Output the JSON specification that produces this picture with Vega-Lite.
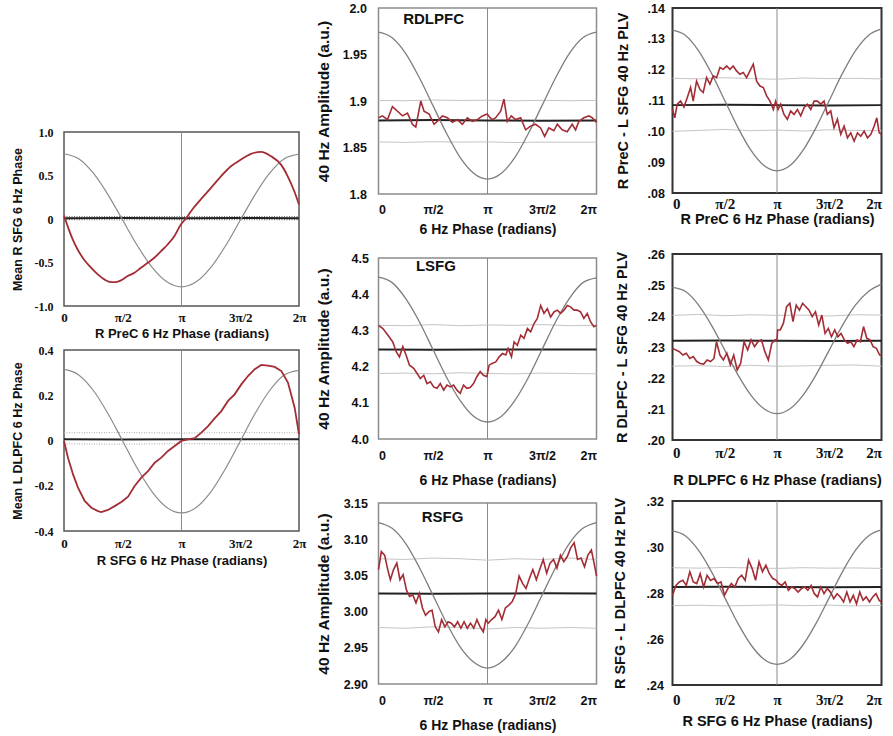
{
"$schema": "https://vega.github.io/schema/vega-lite/v6.json",
"padding": {"left": 10, "top": 1, "right": 2, "bottom": 2},
"background": "white",
"datasets": {
"L1": [
{"s":"ref","x":0,"y":0.75},{"s":"ref","x":0.125,"y":0.692},{"s":"ref","x":0.25,"y":0.526},{"s":"ref","x":0.375,"y":0.278},{"s":"ref","x":0.5,"y":-0.015},{"s":"ref","x":0.625,"y":-0.308},{"s":"ref","x":0.75,"y":-0.556},{"s":"ref","x":0.875,"y":-0.722},{"s":"ref","x":1,"y":-0.78},{"s":"ref","x":1.125,"y":-0.722},{"s":"ref","x":1.25,"y":-0.556},{"s":"ref","x":1.375,"y":-0.308},{"s":"ref","x":1.5,"y":-0.015},{"s":"ref","x":1.625,"y":0.278},{"s":"ref","x":1.75,"y":0.526},{"s":"ref","x":1.875,"y":0.692},{"s":"ref","x":2,"y":0.745},
{"s":"obs","x":0,"y":0.04},{"s":"obs","x":0.031,"y":-0.082},{"s":"obs","x":0.074,"y":-0.235},{"s":"obs","x":0.116,"y":-0.35},{"s":"obs","x":0.173,"y":-0.472},{"s":"obs","x":0.23,"y":-0.56},{"s":"obs","x":0.287,"y":-0.637},{"s":"obs","x":0.343,"y":-0.694},{"s":"obs","x":0.4,"y":-0.725},{"s":"obs","x":0.443,"y":-0.725},{"s":"obs","x":0.485,"y":-0.706},{"s":"obs","x":0.542,"y":-0.656},{"s":"obs","x":0.599,"y":-0.618},{"s":"obs","x":0.655,"y":-0.56},{"s":"obs","x":0.712,"y":-0.503},{"s":"obs","x":0.769,"y":-0.446},{"s":"obs","x":0.826,"y":-0.369},{"s":"obs","x":0.882,"y":-0.293},{"s":"obs","x":0.939,"y":-0.197},{"s":"obs","x":0.996,"y":-0.06},{"s":"obs","x":1.04,"y":0.01},{"s":"obs","x":1.081,"y":0.09},{"s":"obs","x":1.166,"y":0.228},{"s":"obs","x":1.251,"y":0.358},{"s":"obs","x":1.336,"y":0.491},{"s":"obs","x":1.421,"y":0.606},{"s":"obs","x":1.506,"y":0.683},{"s":"obs","x":1.591,"y":0.748},{"s":"obs","x":1.677,"y":0.771},{"s":"obs","x":1.762,"y":0.721},{"s":"obs","x":1.847,"y":0.625},{"s":"obs","x":1.904,"y":0.491},{"s":"obs","x":1.96,"y":0.319},{"s":"obs","x":2,"y":0.166},
{"s":"mean","x":0,"y":0.01},{"s":"mean","x":0.5,"y":0.012},{"s":"mean","x":1,"y":0.01},{"s":"mean","x":1.5,"y":0.011},{"s":"mean","x":2,"y":0.01},
{"s":"hi","x":0,"y":0.028},{"s":"hi","x":0.5,"y":0.029},{"s":"hi","x":1,"y":0.027},{"s":"hi","x":1.5,"y":0.028},{"s":"hi","x":2,"y":0.028},
{"s":"lo","x":0,"y":-0.008},{"s":"lo","x":0.5,"y":-0.009},{"s":"lo","x":1,"y":-0.008},{"s":"lo","x":1.5,"y":-0.007},{"s":"lo","x":2,"y":-0.008},
{"s":"pi","x":1,"y":-1},{"s":"pi","x":1,"y":1}
],
"L2": [
{"s":"ref","x":0,"y":0.314},{"s":"ref","x":0.125,"y":0.29},{"s":"ref","x":0.25,"y":0.221},{"s":"ref","x":0.375,"y":0.118},{"s":"ref","x":0.5,"y":-0.003},{"s":"ref","x":0.625,"y":-0.124},{"s":"ref","x":0.75,"y":-0.227},{"s":"ref","x":0.875,"y":-0.296},{"s":"ref","x":1,"y":-0.32},{"s":"ref","x":1.125,"y":-0.296},{"s":"ref","x":1.25,"y":-0.227},{"s":"ref","x":1.375,"y":-0.124},{"s":"ref","x":1.5,"y":-0.003},{"s":"ref","x":1.625,"y":0.118},{"s":"ref","x":1.75,"y":0.221},{"s":"ref","x":1.875,"y":0.29},{"s":"ref","x":2,"y":0.31},
{"s":"obs","x":0,"y":-0.002},{"s":"obs","x":0.034,"y":-0.076},{"s":"obs","x":0.077,"y":-0.15},{"s":"obs","x":0.119,"y":-0.208},{"s":"obs","x":0.176,"y":-0.267},{"s":"obs","x":0.233,"y":-0.297},{"s":"obs","x":0.289,"y":-0.312},{"s":"obs","x":0.318,"y":-0.316},{"s":"obs","x":0.374,"y":-0.307},{"s":"obs","x":0.431,"y":-0.29},{"s":"obs","x":0.488,"y":-0.272},{"s":"obs","x":0.545,"y":-0.248},{"s":"obs","x":0.601,"y":-0.201},{"s":"obs","x":0.658,"y":-0.164},{"s":"obs","x":0.715,"y":-0.135},{"s":"obs","x":0.772,"y":-0.098},{"s":"obs","x":0.828,"y":-0.076},{"s":"obs","x":0.885,"y":-0.046},{"s":"obs","x":0.942,"y":-0.024},{"s":"obs","x":0.999,"y":-0.002},{"s":"obs","x":1.055,"y":0.005},{"s":"obs","x":1.112,"y":0.01},{"s":"obs","x":1.169,"y":0.035},{"s":"obs","x":1.226,"y":0.064},{"s":"obs","x":1.282,"y":0.098},{"s":"obs","x":1.339,"y":0.13},{"s":"obs","x":1.396,"y":0.175},{"s":"obs","x":1.452,"y":0.204},{"s":"obs","x":1.509,"y":0.248},{"s":"obs","x":1.566,"y":0.285},{"s":"obs","x":1.623,"y":0.315},{"s":"obs","x":1.679,"y":0.334},{"s":"obs","x":1.736,"y":0.331},{"s":"obs","x":1.793,"y":0.325},{"s":"obs","x":1.85,"y":0.307},{"s":"obs","x":1.906,"y":0.256},{"s":"obs","x":1.963,"y":0.145},{"s":"obs","x":2,"y":0.027},
{"s":"mean","x":0,"y":0.005},{"s":"mean","x":0.5,"y":0.004},{"s":"mean","x":1,"y":0.005},{"s":"mean","x":1.5,"y":0.006},{"s":"mean","x":2,"y":0.005},
{"s":"hi","x":0,"y":0.034},{"s":"hi","x":0.5,"y":0.035},{"s":"hi","x":1,"y":0.033},{"s":"hi","x":1.5,"y":0.035},{"s":"hi","x":2,"y":0.034},
{"s":"lo","x":0,"y":-0.015},{"s":"lo","x":0.5,"y":-0.016},{"s":"lo","x":1,"y":-0.014},{"s":"lo","x":1.5,"y":-0.015},{"s":"lo","x":2,"y":-0.015},
{"s":"pi","x":1,"y":-0.4},{"s":"pi","x":1,"y":0.4}
],
"M1": [
{"s":"ref","x":0,"y":1.974},{"s":"ref","x":0.125,"y":1.968},{"s":"ref","x":0.25,"y":1.951},{"s":"ref","x":0.375,"y":1.925},{"s":"ref","x":0.5,"y":1.895},{"s":"ref","x":0.625,"y":1.865},{"s":"ref","x":0.75,"y":1.839},{"s":"ref","x":0.875,"y":1.822},{"s":"ref","x":1,"y":1.816},{"s":"ref","x":1.125,"y":1.822},{"s":"ref","x":1.25,"y":1.839},{"s":"ref","x":1.375,"y":1.865},{"s":"ref","x":1.5,"y":1.895},{"s":"ref","x":1.625,"y":1.925},{"s":"ref","x":1.75,"y":1.951},{"s":"ref","x":1.875,"y":1.968},{"s":"ref","x":2,"y":1.974},
{"s":"obs","x":0,"y":1.882},{"s":"obs","x":0.037,"y":1.884},{"s":"obs","x":0.082,"y":1.88},{"s":"obs","x":0.128,"y":1.894},{"s":"obs","x":0.174,"y":1.889},{"s":"obs","x":0.22,"y":1.884},{"s":"obs","x":0.266,"y":1.887},{"s":"obs","x":0.311,"y":1.875},{"s":"obs","x":0.342,"y":1.872},{"s":"obs","x":0.388,"y":1.9},{"s":"obs","x":0.418,"y":1.889},{"s":"obs","x":0.464,"y":1.886},{"s":"obs","x":0.51,"y":1.875},{"s":"obs","x":0.556,"y":1.88},{"s":"obs","x":0.586,"y":1.884},{"s":"obs","x":0.632,"y":1.882},{"s":"obs","x":0.678,"y":1.877},{"s":"obs","x":0.724,"y":1.88},{"s":"obs","x":0.769,"y":1.875},{"s":"obs","x":0.815,"y":1.882},{"s":"obs","x":0.861,"y":1.878},{"s":"obs","x":0.907,"y":1.88},{"s":"obs","x":0.953,"y":1.884},{"s":"obs","x":0.998,"y":1.886},{"s":"obs","x":1.023,"y":1.882},{"s":"obs","x":1.044,"y":1.88},{"s":"obs","x":1.075,"y":1.882},{"s":"obs","x":1.121,"y":1.889},{"s":"obs","x":1.151,"y":1.902},{"s":"obs","x":1.182,"y":1.878},{"s":"obs","x":1.218,"y":1.884},{"s":"obs","x":1.258,"y":1.88},{"s":"obs","x":1.304,"y":1.882},{"s":"obs","x":1.35,"y":1.869},{"s":"obs","x":1.395,"y":1.873},{"s":"obs","x":1.441,"y":1.875},{"s":"obs","x":1.487,"y":1.871},{"s":"obs","x":1.524,"y":1.862},{"s":"obs","x":1.563,"y":1.871},{"s":"obs","x":1.609,"y":1.868},{"s":"obs","x":1.64,"y":1.875},{"s":"obs","x":1.685,"y":1.869},{"s":"obs","x":1.731,"y":1.867},{"s":"obs","x":1.777,"y":1.875},{"s":"obs","x":1.808,"y":1.869},{"s":"obs","x":1.838,"y":1.878},{"s":"obs","x":1.884,"y":1.882},{"s":"obs","x":1.93,"y":1.884},{"s":"obs","x":1.96,"y":1.882},{"s":"obs","x":2,"y":1.877},
{"s":"mean","x":0,"y":1.879},{"s":"mean","x":0.5,"y":1.8795},{"s":"mean","x":1,"y":1.879},{"s":"mean","x":1.5,"y":1.8788},{"s":"mean","x":2,"y":1.879},
{"s":"hi","x":0,"y":1.9005},{"s":"hi","x":0.25,"y":1.9003},{"s":"hi","x":0.5,"y":1.901},{"s":"hi","x":0.75,"y":1.9006},{"s":"hi","x":1,"y":1.9008},{"s":"hi","x":1.25,"y":1.9002},{"s":"hi","x":1.5,"y":1.9007},{"s":"hi","x":1.75,"y":1.9003},{"s":"hi","x":2,"y":1.9006},
{"s":"lo","x":0,"y":1.856},{"s":"lo","x":0.25,"y":1.8555},{"s":"lo","x":0.5,"y":1.8562},{"s":"lo","x":0.75,"y":1.8558},{"s":"lo","x":1,"y":1.856},{"s":"lo","x":1.25,"y":1.8553},{"s":"lo","x":1.5,"y":1.8558},{"s":"lo","x":1.75,"y":1.8556},{"s":"lo","x":2,"y":1.8557},
{"s":"pi","x":1,"y":1.8},{"s":"pi","x":1,"y":2.0},
{"s":"label","x":0.505,"y":1.988,"label":"RDLPFC"}
],
"M2": [
{"s":"ref","x":0,"y":4.447},{"s":"ref","x":0.125,"y":4.432},{"s":"ref","x":0.25,"y":4.388},{"s":"ref","x":0.375,"y":4.324},{"s":"ref","x":0.5,"y":4.247},{"s":"ref","x":0.625,"y":4.17},{"s":"ref","x":0.75,"y":4.106},{"s":"ref","x":0.875,"y":4.062},{"s":"ref","x":1,"y":4.047},{"s":"ref","x":1.125,"y":4.062},{"s":"ref","x":1.25,"y":4.106},{"s":"ref","x":1.375,"y":4.17},{"s":"ref","x":1.5,"y":4.247},{"s":"ref","x":1.625,"y":4.324},{"s":"ref","x":1.75,"y":4.388},{"s":"ref","x":1.875,"y":4.432},{"s":"ref","x":2,"y":4.445},
{"s":"obs","x":0,"y":4.314},{"s":"obs","x":0.04,"y":4.305},{"s":"obs","x":0.085,"y":4.287},{"s":"obs","x":0.131,"y":4.268},{"s":"obs","x":0.162,"y":4.241},{"s":"obs","x":0.192,"y":4.227},{"s":"obs","x":0.223,"y":4.255},{"s":"obs","x":0.253,"y":4.232},{"s":"obs","x":0.284,"y":4.204},{"s":"obs","x":0.323,"y":4.195},{"s":"obs","x":0.354,"y":4.181},{"s":"obs","x":0.384,"y":4.167},{"s":"obs","x":0.415,"y":4.176},{"s":"obs","x":0.445,"y":4.153},{"s":"obs","x":0.476,"y":4.158},{"s":"obs","x":0.506,"y":4.144},{"s":"obs","x":0.537,"y":4.14},{"s":"obs","x":0.567,"y":4.153},{"s":"obs","x":0.598,"y":4.135},{"s":"obs","x":0.628,"y":4.149},{"s":"obs","x":0.659,"y":4.144},{"s":"obs","x":0.689,"y":4.149},{"s":"obs","x":0.72,"y":4.135},{"s":"obs","x":0.75,"y":4.126},{"s":"obs","x":0.78,"y":4.149},{"s":"obs","x":0.811,"y":4.14},{"s":"obs","x":0.841,"y":4.142},{"s":"obs","x":0.872,"y":4.153},{"s":"obs","x":0.902,"y":4.172},{"s":"obs","x":0.933,"y":4.186},{"s":"obs","x":0.963,"y":4.176},{"s":"obs","x":0.994,"y":4.172},{"s":"obs","x":1.015,"y":4.204},{"s":"obs","x":1.046,"y":4.209},{"s":"obs","x":1.076,"y":4.213},{"s":"obs","x":1.107,"y":4.227},{"s":"obs","x":1.137,"y":4.236},{"s":"obs","x":1.168,"y":4.232},{"s":"obs","x":1.189,"y":4.25},{"s":"obs","x":1.22,"y":4.227},{"s":"obs","x":1.244,"y":4.268},{"s":"obs","x":1.274,"y":4.259},{"s":"obs","x":1.305,"y":4.287},{"s":"obs","x":1.335,"y":4.278},{"s":"obs","x":1.366,"y":4.305},{"s":"obs","x":1.396,"y":4.296},{"s":"obs","x":1.427,"y":4.319},{"s":"obs","x":1.457,"y":4.333},{"s":"obs","x":1.488,"y":4.369},{"s":"obs","x":1.518,"y":4.347},{"s":"obs","x":1.549,"y":4.36},{"s":"obs","x":1.579,"y":4.337},{"s":"obs","x":1.61,"y":4.351},{"s":"obs","x":1.64,"y":4.356},{"s":"obs","x":1.671,"y":4.347},{"s":"obs","x":1.701,"y":4.356},{"s":"obs","x":1.732,"y":4.369},{"s":"obs","x":1.762,"y":4.365},{"s":"obs","x":1.793,"y":4.356},{"s":"obs","x":1.823,"y":4.356},{"s":"obs","x":1.854,"y":4.351},{"s":"obs","x":1.884,"y":4.333},{"s":"obs","x":1.915,"y":4.347},{"s":"obs","x":1.945,"y":4.324},{"s":"obs","x":1.976,"y":4.31},{"s":"obs","x":2,"y":4.314},
{"s":"mean","x":0,"y":4.247},{"s":"mean","x":0.5,"y":4.2465},{"s":"mean","x":1,"y":4.247},{"s":"mean","x":1.5,"y":4.2475},{"s":"mean","x":2,"y":4.247},
{"s":"hi","x":0,"y":4.314},{"s":"hi","x":0.25,"y":4.313},{"s":"hi","x":0.5,"y":4.316},{"s":"hi","x":0.75,"y":4.313},{"s":"hi","x":1,"y":4.315},{"s":"hi","x":1.25,"y":4.314},{"s":"hi","x":1.5,"y":4.316},{"s":"hi","x":1.75,"y":4.313},{"s":"hi","x":2,"y":4.314},
{"s":"lo","x":0,"y":4.181},{"s":"lo","x":0.25,"y":4.182},{"s":"lo","x":0.5,"y":4.18},{"s":"lo","x":0.75,"y":4.183},{"s":"lo","x":1,"y":4.181},{"s":"lo","x":1.25,"y":4.18},{"s":"lo","x":1.5,"y":4.182},{"s":"lo","x":1.75,"y":4.181},{"s":"lo","x":2,"y":4.18},
{"s":"pi","x":1,"y":4.0},{"s":"pi","x":1,"y":4.5},
{"s":"label","x":0.527,"y":4.478,"label":"LSFG"}
],
"M3": [
{"s":"ref","x":0,"y":3.123},{"s":"ref","x":0.125,"y":3.115},{"s":"ref","x":0.25,"y":3.094},{"s":"ref","x":0.375,"y":3.061},{"s":"ref","x":0.5,"y":3.0225},{"s":"ref","x":0.625,"y":2.984},{"s":"ref","x":0.75,"y":2.951},{"s":"ref","x":0.875,"y":2.93},{"s":"ref","x":1,"y":2.922},{"s":"ref","x":1.125,"y":2.93},{"s":"ref","x":1.25,"y":2.951},{"s":"ref","x":1.375,"y":2.984},{"s":"ref","x":1.5,"y":3.0225},{"s":"ref","x":1.625,"y":3.061},{"s":"ref","x":1.75,"y":3.094},{"s":"ref","x":1.875,"y":3.115},{"s":"ref","x":2,"y":3.123},
{"s":"obs","x":0,"y":3.058},{"s":"obs","x":0.026,"y":3.083},{"s":"obs","x":0.056,"y":3.078},{"s":"obs","x":0.085,"y":3.058},{"s":"obs","x":0.109,"y":3.044},{"s":"obs","x":0.138,"y":3.058},{"s":"obs","x":0.168,"y":3.067},{"s":"obs","x":0.197,"y":3.044},{"s":"obs","x":0.226,"y":3.051},{"s":"obs","x":0.256,"y":3.03},{"s":"obs","x":0.285,"y":3.021},{"s":"obs","x":0.315,"y":3.023},{"s":"obs","x":0.344,"y":3.012},{"s":"obs","x":0.374,"y":3.025},{"s":"obs","x":0.403,"y":3.005},{"s":"obs","x":0.432,"y":2.995},{"s":"obs","x":0.462,"y":3.0},{"s":"obs","x":0.491,"y":3.002},{"s":"obs","x":0.521,"y":2.979},{"s":"obs","x":0.55,"y":2.972},{"s":"obs","x":0.579,"y":2.989},{"s":"obs","x":0.609,"y":2.979},{"s":"obs","x":0.638,"y":2.986},{"s":"obs","x":0.668,"y":2.984},{"s":"obs","x":0.697,"y":2.979},{"s":"obs","x":0.726,"y":2.986},{"s":"obs","x":0.756,"y":2.977},{"s":"obs","x":0.785,"y":2.986},{"s":"obs","x":0.815,"y":2.977},{"s":"obs","x":0.844,"y":2.984},{"s":"obs","x":0.874,"y":2.977},{"s":"obs","x":0.903,"y":2.989},{"s":"obs","x":0.932,"y":2.979},{"s":"obs","x":0.962,"y":2.972},{"s":"obs","x":0.985,"y":2.989},{"s":"obs","x":1.006,"y":2.984},{"s":"obs","x":1.038,"y":2.989},{"s":"obs","x":1.069,"y":2.993},{"s":"obs","x":1.101,"y":3.002},{"s":"obs","x":1.132,"y":2.989},{"s":"obs","x":1.164,"y":3.005},{"s":"obs","x":1.196,"y":3.009},{"s":"obs","x":1.227,"y":3.014},{"s":"obs","x":1.259,"y":3.025},{"s":"obs","x":1.29,"y":3.049},{"s":"obs","x":1.322,"y":3.039},{"s":"obs","x":1.353,"y":3.032},{"s":"obs","x":1.385,"y":3.046},{"s":"obs","x":1.416,"y":3.058},{"s":"obs","x":1.448,"y":3.044},{"s":"obs","x":1.479,"y":3.058},{"s":"obs","x":1.511,"y":3.072},{"s":"obs","x":1.543,"y":3.053},{"s":"obs","x":1.574,"y":3.067},{"s":"obs","x":1.606,"y":3.072},{"s":"obs","x":1.637,"y":3.06},{"s":"obs","x":1.669,"y":3.078},{"s":"obs","x":1.7,"y":3.069},{"s":"obs","x":1.732,"y":3.076},{"s":"obs","x":1.763,"y":3.088},{"s":"obs","x":1.795,"y":3.095},{"s":"obs","x":1.826,"y":3.072},{"s":"obs","x":1.858,"y":3.074},{"s":"obs","x":1.89,"y":3.062},{"s":"obs","x":1.921,"y":3.078},{"s":"obs","x":1.953,"y":3.085},{"s":"obs","x":1.984,"y":3.062},{"s":"obs","x":2,"y":3.049},
{"s":"mean","x":0,"y":3.025},{"s":"mean","x":0.5,"y":3.0248},{"s":"mean","x":1,"y":3.025},{"s":"mean","x":1.5,"y":3.0252},{"s":"mean","x":2,"y":3.025},
{"s":"hi","x":0,"y":3.073},{"s":"hi","x":0.25,"y":3.072},{"s":"hi","x":0.5,"y":3.074},{"s":"hi","x":0.75,"y":3.073},{"s":"hi","x":1,"y":3.071},{"s":"hi","x":1.25,"y":3.073},{"s":"hi","x":1.5,"y":3.072},{"s":"hi","x":1.75,"y":3.074},{"s":"hi","x":2,"y":3.072},
{"s":"lo","x":0,"y":2.978},{"s":"lo","x":0.25,"y":2.977},{"s":"lo","x":0.5,"y":2.979},{"s":"lo","x":0.75,"y":2.978},{"s":"lo","x":1,"y":2.976},{"s":"lo","x":1.25,"y":2.978},{"s":"lo","x":1.5,"y":2.977},{"s":"lo","x":1.75,"y":2.978},{"s":"lo","x":2,"y":2.977},
{"s":"pi","x":1,"y":2.9},{"s":"pi","x":1,"y":3.15},
{"s":"label","x":0.587,"y":3.131,"label":"RSFG"}
],
"R1": [
{"s":"ref","x":0,"y":0.1328},{"s":"ref","x":0.125,"y":0.1311},{"s":"ref","x":0.25,"y":0.1261},{"s":"ref","x":0.375,"y":0.1187},{"s":"ref","x":0.5,"y":0.11},{"s":"ref","x":0.625,"y":0.1013},{"s":"ref","x":0.75,"y":0.0939},{"s":"ref","x":0.875,"y":0.0889},{"s":"ref","x":1,"y":0.0872},{"s":"ref","x":1.125,"y":0.0889},{"s":"ref","x":1.25,"y":0.0939},{"s":"ref","x":1.375,"y":0.1013},{"s":"ref","x":1.5,"y":0.11},{"s":"ref","x":1.625,"y":0.1187},{"s":"ref","x":1.75,"y":0.1261},{"s":"ref","x":1.875,"y":0.1311},{"s":"ref","x":2,"y":0.1332},
{"s":"obs","x":0,"y":0.1071},{"s":"obs","x":0.022,"y":0.1044},{"s":"obs","x":0.045,"y":0.1088},{"s":"obs","x":0.077,"y":0.1098},{"s":"obs","x":0.109,"y":0.1079},{"s":"obs","x":0.141,"y":0.1109},{"s":"obs","x":0.173,"y":0.1142},{"s":"obs","x":0.198,"y":0.1098},{"s":"obs","x":0.23,"y":0.1163},{"s":"obs","x":0.262,"y":0.1136},{"s":"obs","x":0.294,"y":0.1126},{"s":"obs","x":0.326,"y":0.1174},{"s":"obs","x":0.358,"y":0.1153},{"s":"obs","x":0.39,"y":0.118},{"s":"obs","x":0.422,"y":0.1174},{"s":"obs","x":0.454,"y":0.1207},{"s":"obs","x":0.486,"y":0.1201},{"s":"obs","x":0.518,"y":0.1212},{"s":"obs","x":0.55,"y":0.1201},{"s":"obs","x":0.581,"y":0.1212},{"s":"obs","x":0.613,"y":0.1196},{"s":"obs","x":0.645,"y":0.1185},{"s":"obs","x":0.677,"y":0.1191},{"s":"obs","x":0.709,"y":0.1174},{"s":"obs","x":0.741,"y":0.1196},{"s":"obs","x":0.773,"y":0.1218},{"s":"obs","x":0.805,"y":0.1163},{"s":"obs","x":0.837,"y":0.1147},{"s":"obs","x":0.869,"y":0.1142},{"s":"obs","x":0.901,"y":0.1115},{"s":"obs","x":0.933,"y":0.1098},{"s":"obs","x":0.965,"y":0.1071},{"s":"obs","x":0.987,"y":0.1098},{"s":"obs","x":1.01,"y":0.1071},{"s":"obs","x":1.035,"y":0.1088},{"s":"obs","x":1.067,"y":0.1055},{"s":"obs","x":1.099,"y":0.1039},{"s":"obs","x":1.131,"y":0.1066},{"s":"obs","x":1.163,"y":0.1055},{"s":"obs","x":1.195,"y":0.1071},{"s":"obs","x":1.227,"y":0.105},{"s":"obs","x":1.259,"y":0.1077},{"s":"obs","x":1.291,"y":0.1088},{"s":"obs","x":1.323,"y":0.1071},{"s":"obs","x":1.355,"y":0.1098},{"s":"obs","x":1.387,"y":0.1098},{"s":"obs","x":1.419,"y":0.1088},{"s":"obs","x":1.45,"y":0.1098},{"s":"obs","x":1.482,"y":0.1055},{"s":"obs","x":1.514,"y":0.1066},{"s":"obs","x":1.546,"y":0.1012},{"s":"obs","x":1.578,"y":0.1039},{"s":"obs","x":1.61,"y":0.099},{"s":"obs","x":1.642,"y":0.1017},{"s":"obs","x":1.674,"y":0.0979},{"s":"obs","x":1.706,"y":0.0995},{"s":"obs","x":1.738,"y":0.0968},{"s":"obs","x":1.77,"y":0.0995},{"s":"obs","x":1.802,"y":0.0984},{"s":"obs","x":1.834,"y":0.1001},{"s":"obs","x":1.866,"y":0.0979},{"s":"obs","x":1.898,"y":0.099},{"s":"obs","x":1.93,"y":0.1017},{"s":"obs","x":1.955,"y":0.1044},{"s":"obs","x":1.978,"y":0.0995},{"s":"obs","x":2,"y":0.099},
{"s":"mean","x":0,"y":0.1085},{"s":"mean","x":0.5,"y":0.1086},{"s":"mean","x":1,"y":0.1085},{"s":"mean","x":1.5,"y":0.1084},{"s":"mean","x":2,"y":0.1085},
{"s":"hi","x":0,"y":0.1172},{"s":"hi","x":0.25,"y":0.117},{"s":"hi","x":0.5,"y":0.1174},{"s":"hi","x":0.75,"y":0.1171},{"s":"hi","x":1,"y":0.1169},{"s":"hi","x":1.25,"y":0.1173},{"s":"hi","x":1.5,"y":0.1171},{"s":"hi","x":1.75,"y":0.1172},{"s":"hi","x":2,"y":0.117},
{"s":"lo","x":0,"y":0.1},{"s":"lo","x":0.25,"y":0.1003},{"s":"lo","x":0.5,"y":0.1006},{"s":"lo","x":0.75,"y":0.1002},{"s":"lo","x":1,"y":0.1004},{"s":"lo","x":1.25,"y":0.1001},{"s":"lo","x":1.5,"y":0.1005},{"s":"lo","x":1.75,"y":0.1003},{"s":"lo","x":2,"y":0.1002},
{"s":"pi","x":1,"y":0.08},{"s":"pi","x":1,"y":0.14}
],
"R2": [
{"s":"ref","x":0,"y":0.2492},{"s":"ref","x":0.125,"y":0.2479},{"s":"ref","x":0.25,"y":0.2435},{"s":"ref","x":0.375,"y":0.2369},{"s":"ref","x":0.5,"y":0.229},{"s":"ref","x":0.625,"y":0.2211},{"s":"ref","x":0.75,"y":0.2145},{"s":"ref","x":0.875,"y":0.2101},{"s":"ref","x":1,"y":0.2085},{"s":"ref","x":1.125,"y":0.2101},{"s":"ref","x":1.25,"y":0.2145},{"s":"ref","x":1.375,"y":0.2211},{"s":"ref","x":1.5,"y":0.229},{"s":"ref","x":1.625,"y":0.2369},{"s":"ref","x":1.75,"y":0.2435},{"s":"ref","x":1.875,"y":0.2479},{"s":"ref","x":2,"y":0.2503},
{"s":"obs","x":0,"y":0.2296},{"s":"obs","x":0.033,"y":0.229},{"s":"obs","x":0.066,"y":0.2285},{"s":"obs","x":0.099,"y":0.2274},{"s":"obs","x":0.132,"y":0.228},{"s":"obs","x":0.166,"y":0.2263},{"s":"obs","x":0.199,"y":0.2269},{"s":"obs","x":0.232,"y":0.2253},{"s":"obs","x":0.265,"y":0.2247},{"s":"obs","x":0.298,"y":0.2245},{"s":"obs","x":0.331,"y":0.2258},{"s":"obs","x":0.364,"y":0.2253},{"s":"obs","x":0.397,"y":0.2263},{"s":"obs","x":0.421,"y":0.2317},{"s":"obs","x":0.454,"y":0.2274},{"s":"obs","x":0.487,"y":0.2258},{"s":"obs","x":0.52,"y":0.228},{"s":"obs","x":0.553,"y":0.2242},{"s":"obs","x":0.586,"y":0.2274},{"s":"obs","x":0.619,"y":0.2226},{"s":"obs","x":0.652,"y":0.2247},{"s":"obs","x":0.685,"y":0.2317},{"s":"obs","x":0.719,"y":0.229},{"s":"obs","x":0.752,"y":0.2323},{"s":"obs","x":0.785,"y":0.2301},{"s":"obs","x":0.818,"y":0.2317},{"s":"obs","x":0.851,"y":0.2323},{"s":"obs","x":0.884,"y":0.2285},{"s":"obs","x":0.917,"y":0.2258},{"s":"obs","x":0.95,"y":0.2312},{"s":"obs","x":0.983,"y":0.2323},{"s":"obs","x":1.0,"y":0.2323},{"s":"obs","x":1.006,"y":0.2355},{"s":"obs","x":1.031,"y":0.2355},{"s":"obs","x":1.061,"y":0.2376},{"s":"obs","x":1.092,"y":0.243},{"s":"obs","x":1.123,"y":0.2441},{"s":"obs","x":1.153,"y":0.2382},{"s":"obs","x":1.184,"y":0.2435},{"s":"obs","x":1.215,"y":0.2419},{"s":"obs","x":1.245,"y":0.2441},{"s":"obs","x":1.276,"y":0.243},{"s":"obs","x":1.307,"y":0.2419},{"s":"obs","x":1.337,"y":0.2398},{"s":"obs","x":1.368,"y":0.2414},{"s":"obs","x":1.399,"y":0.2371},{"s":"obs","x":1.429,"y":0.2403},{"s":"obs","x":1.46,"y":0.2344},{"s":"obs","x":1.491,"y":0.236},{"s":"obs","x":1.521,"y":0.2333},{"s":"obs","x":1.552,"y":0.2355},{"s":"obs","x":1.583,"y":0.2333},{"s":"obs","x":1.613,"y":0.2344},{"s":"obs","x":1.644,"y":0.2323},{"s":"obs","x":1.675,"y":0.2312},{"s":"obs","x":1.706,"y":0.2317},{"s":"obs","x":1.736,"y":0.2301},{"s":"obs","x":1.767,"y":0.2323},{"s":"obs","x":1.798,"y":0.2317},{"s":"obs","x":1.828,"y":0.2366},{"s":"obs","x":1.859,"y":0.2328},{"s":"obs","x":1.89,"y":0.2323},{"s":"obs","x":1.92,"y":0.2301},{"s":"obs","x":1.951,"y":0.2296},{"s":"obs","x":1.982,"y":0.2274},{"s":"obs","x":2,"y":0.2274},
{"s":"mean","x":0,"y":0.232},{"s":"mean","x":0.5,"y":0.2321},{"s":"mean","x":1,"y":0.232},{"s":"mean","x":1.5,"y":0.2319},{"s":"mean","x":2,"y":0.232},
{"s":"hi","x":0,"y":0.2402},{"s":"hi","x":0.25,"y":0.2405},{"s":"hi","x":0.5,"y":0.2401},{"s":"hi","x":0.75,"y":0.2404},{"s":"hi","x":1,"y":0.2402},{"s":"hi","x":1.25,"y":0.2403},{"s":"hi","x":1.5,"y":0.24},{"s":"hi","x":1.75,"y":0.2404},{"s":"hi","x":2,"y":0.2403},
{"s":"lo","x":0,"y":0.2238},{"s":"lo","x":0.25,"y":0.224},{"s":"lo","x":0.5,"y":0.2237},{"s":"lo","x":0.75,"y":0.2241},{"s":"lo","x":1,"y":0.2238},{"s":"lo","x":1.25,"y":0.2239},{"s":"lo","x":1.5,"y":0.2241},{"s":"lo","x":1.75,"y":0.2242},{"s":"lo","x":2,"y":0.2238},
{"s":"pi","x":1,"y":0.2},{"s":"pi","x":1,"y":0.26}
],
"R3": [
{"s":"ref","x":0,"y":0.307},{"s":"ref","x":0.125,"y":0.3048},{"s":"ref","x":0.25,"y":0.2985},{"s":"ref","x":0.375,"y":0.2891},{"s":"ref","x":0.5,"y":0.278},{"s":"ref","x":0.625,"y":0.2669},{"s":"ref","x":0.75,"y":0.2575},{"s":"ref","x":0.875,"y":0.2512},{"s":"ref","x":1,"y":0.249},{"s":"ref","x":1.125,"y":0.2512},{"s":"ref","x":1.25,"y":0.2575},{"s":"ref","x":1.375,"y":0.2669},{"s":"ref","x":1.5,"y":0.278},{"s":"ref","x":1.625,"y":0.2891},{"s":"ref","x":1.75,"y":0.2985},{"s":"ref","x":1.875,"y":0.3048},{"s":"ref","x":2,"y":0.3074},
{"s":"obs","x":0,"y":0.279},{"s":"obs","x":0.033,"y":0.2833},{"s":"obs","x":0.066,"y":0.2848},{"s":"obs","x":0.099,"y":0.2855},{"s":"obs","x":0.132,"y":0.2833},{"s":"obs","x":0.166,"y":0.2892},{"s":"obs","x":0.199,"y":0.2848},{"s":"obs","x":0.232,"y":0.2841},{"s":"obs","x":0.265,"y":0.2884},{"s":"obs","x":0.298,"y":0.2826},{"s":"obs","x":0.331,"y":0.2877},{"s":"obs","x":0.364,"y":0.2855},{"s":"obs","x":0.397,"y":0.2863},{"s":"obs","x":0.43,"y":0.2841},{"s":"obs","x":0.464,"y":0.2848},{"s":"obs","x":0.497,"y":0.279},{"s":"obs","x":0.53,"y":0.2819},{"s":"obs","x":0.563,"y":0.2841},{"s":"obs","x":0.596,"y":0.2826},{"s":"obs","x":0.629,"y":0.2863},{"s":"obs","x":0.662,"y":0.2877},{"s":"obs","x":0.695,"y":0.2855},{"s":"obs","x":0.728,"y":0.2943},{"s":"obs","x":0.762,"y":0.2906},{"s":"obs","x":0.795,"y":0.2855},{"s":"obs","x":0.828,"y":0.2935},{"s":"obs","x":0.861,"y":0.2892},{"s":"obs","x":0.894,"y":0.2921},{"s":"obs","x":0.927,"y":0.2884},{"s":"obs","x":0.96,"y":0.2863},{"s":"obs","x":0.993,"y":0.2855},{"s":"obs","x":1.016,"y":0.2841},{"s":"obs","x":1.047,"y":0.2833},{"s":"obs","x":1.078,"y":0.2848},{"s":"obs","x":1.109,"y":0.2812},{"s":"obs","x":1.14,"y":0.2826},{"s":"obs","x":1.171,"y":0.2819},{"s":"obs","x":1.202,"y":0.2804},{"s":"obs","x":1.233,"y":0.2819},{"s":"obs","x":1.264,"y":0.2826},{"s":"obs","x":1.295,"y":0.2812},{"s":"obs","x":1.326,"y":0.2833},{"s":"obs","x":1.357,"y":0.2797},{"s":"obs","x":1.388,"y":0.2783},{"s":"obs","x":1.419,"y":0.2826},{"s":"obs","x":1.45,"y":0.2797},{"s":"obs","x":1.481,"y":0.2819},{"s":"obs","x":1.512,"y":0.2804},{"s":"obs","x":1.543,"y":0.2775},{"s":"obs","x":1.575,"y":0.2797},{"s":"obs","x":1.606,"y":0.2783},{"s":"obs","x":1.637,"y":0.2761},{"s":"obs","x":1.668,"y":0.2804},{"s":"obs","x":1.699,"y":0.2761},{"s":"obs","x":1.73,"y":0.279},{"s":"obs","x":1.761,"y":0.2753},{"s":"obs","x":1.792,"y":0.2804},{"s":"obs","x":1.823,"y":0.2768},{"s":"obs","x":1.854,"y":0.2783},{"s":"obs","x":1.885,"y":0.2761},{"s":"obs","x":1.916,"y":0.2783},{"s":"obs","x":1.947,"y":0.2797},{"s":"obs","x":1.978,"y":0.2768},{"s":"obs","x":2,"y":0.2761},
{"s":"mean","x":0,"y":0.2826},{"s":"mean","x":0.5,"y":0.2827},{"s":"mean","x":1,"y":0.2826},{"s":"mean","x":1.5,"y":0.2825},{"s":"mean","x":2,"y":0.2826},
{"s":"hi","x":0,"y":0.291},{"s":"hi","x":0.25,"y":0.2908},{"s":"hi","x":0.5,"y":0.2911},{"s":"hi","x":0.75,"y":0.2909},{"s":"hi","x":1,"y":0.2907},{"s":"hi","x":1.25,"y":0.291},{"s":"hi","x":1.5,"y":0.2908},{"s":"hi","x":1.75,"y":0.2909},{"s":"hi","x":2,"y":0.2907},
{"s":"lo","x":0,"y":0.2745},{"s":"lo","x":0.25,"y":0.2747},{"s":"lo","x":0.5,"y":0.2744},{"s":"lo","x":0.75,"y":0.2746},{"s":"lo","x":1,"y":0.2748},{"s":"lo","x":1.25,"y":0.2745},{"s":"lo","x":1.5,"y":0.2747},{"s":"lo","x":1.75,"y":0.2744},{"s":"lo","x":2,"y":0.2746},
{"s":"pi","x":1,"y":0.24},{"s":"pi","x":1,"y":0.32}
]
},
"spacing": 8.5,
"hconcat": [
{
"vconcat": [
{"width": 235, "height": 80, "view": {"stroke": null}, "data": {"values": []}, "mark": "point"},
{
"width": 235, "height": 174,
"view": {"stroke": "#555555", "strokeWidth": 1.5},
"data": {"name": "L1"},
"encoding": {
"x": {"field": "x", "type": "quantitative", "scale": {"domain": [0, 2], "nice": false, "zero": false},
"axis": {"title": "R PreC 6 Hz Phase (radians)", "values": [0, 0.5, 1, 1.5, 2], "labelExpr": "datum.value==0?'0':datum.value==0.5?'π/2':datum.value==1?'π':datum.value==1.5?'3π/2':'2π'", "labelFlush": false, "labelFont": "Liberation Serif", "labelFontSize": 13, "labelPadding": 5, "minExtent": 20, "maxExtent": 20, "titlePadding": 1.5, "titleFont": "Liberation Sans", "titleFontSize": 13}},
"y": {"field": "y", "type": "quantitative", "scale": {"domain": [-1, 1], "nice": false, "zero": false},
"axis": {"title": "Mean R SFG 6 Hz Phase", "values": [-1, -0.5, 0, 0.5, 1], "labelExpr": "datum.value==0?'0':replace(format(datum.value,'.1f'),'\u2212','-')", "labelFont": "Liberation Serif", "labelFontSize": 12, "labelPadding": 11, "minExtent": 30, "maxExtent": 30, "titlePadding": 10, "titleFont": "Liberation Sans", "titleFontSize": 12.5}}
},
"layer": [
{"transform": [{"filter": "datum.s=='pi'"}], "mark": {"type": "line", "color": "#8a8a8a", "strokeWidth": 1}},
{"transform": [{"filter": "datum.s=='hi'||datum.s=='lo'"}], "mark": {"type": "line", "color": "#777777", "strokeWidth": 1.2, "strokeDash": [1, 1.5]}, "encoding": {"detail": {"field": "s"}}},
{"transform": [{"filter": "datum.s=='mean'"}], "mark": {"type": "line", "color": "#222222", "strokeWidth": 2}},
{"transform": [{"filter": "datum.s=='ref'"}], "mark": {"type": "line", "color": "#8c8c8c", "strokeWidth": 1.2, "interpolate": "monotone"}},
{"transform": [{"filter": "datum.s=='obs'"}], "mark": {"type": "line", "color": "#a32d35", "strokeWidth": 1.8, "interpolate": "monotone"}}
]
},
{
"width": 235, "height": 181,
"view": {"stroke": "#555555", "strokeWidth": 1.5},
"data": {"name": "L2"},
"encoding": {
"x": {"field": "x", "type": "quantitative", "scale": {"domain": [0, 2], "nice": false, "zero": false},
"axis": {"title": "R SFG 6 Hz Phase (radians)", "values": [0, 0.5, 1, 1.5, 2], "labelExpr": "datum.value==0?'0':datum.value==0.5?'π/2':datum.value==1?'π':datum.value==1.5?'3π/2':'2π'", "labelFlush": false, "labelFont": "Liberation Serif", "labelFontSize": 13, "labelPadding": 6.5, "minExtent": 20, "maxExtent": 20, "titlePadding": 3.5, "titleFont": "Liberation Sans", "titleFontSize": 13}},
"y": {"field": "y", "type": "quantitative", "scale": {"domain": [-0.4, 0.4], "nice": false, "zero": false},
"axis": {"title": "Mean L DLPFC 6 Hz Phase", "values": [-0.4, -0.2, 0, 0.2, 0.4], "labelExpr": "datum.value==0?'0':replace(format(datum.value,'.1f'),'\u2212','-')", "labelFont": "Liberation Serif", "labelFontSize": 12, "labelPadding": 11, "minExtent": 30, "maxExtent": 30, "titlePadding": 10, "titleFont": "Liberation Sans", "titleFontSize": 12.5}}
},
"layer": [
{"transform": [{"filter": "datum.s=='pi'"}], "mark": {"type": "line", "color": "#8a8a8a", "strokeWidth": 1}},
{"transform": [{"filter": "datum.s=='hi'||datum.s=='lo'"}], "mark": {"type": "line", "color": "#a8a8a8", "strokeWidth": 1, "strokeDash": [1, 1.5]}, "encoding": {"detail": {"field": "s"}}},
{"transform": [{"filter": "datum.s=='mean'"}], "mark": {"type": "line", "color": "#222222", "strokeWidth": 2}},
{"transform": [{"filter": "datum.s=='ref'"}], "mark": {"type": "line", "color": "#8c8c8c", "strokeWidth": 1.2, "interpolate": "monotone"}},
{"transform": [{"filter": "datum.s=='obs'"}], "mark": {"type": "line", "color": "#a32d35", "strokeWidth": 1.8}}
]
}
],
"spacing": 44,
"bounds": "flush"
},
{
"hconcat": [
{
"vconcat": [
{
"width": 218, "height": 186,
"view": {"stroke": "#8c8c8c", "strokeWidth": 1.5},
"data": {"name": "M1"},
"encoding": {
"x": {"field": "x", "type": "quantitative", "scale": {"domain": [0, 2], "nice": false, "zero": false},
"axis": {"title": "6 Hz Phase (radians)", "values": [0, 0.5, 1, 1.5, 2], "labelExpr": "datum.value==0?'0':datum.value==0.5?'π/2':datum.value==1?'π':datum.value==1.5?'3π/2':'2π'", "labelFlush": true, "labelFont": "Liberation Sans", "labelFontSize": 12.5, "labelPadding": 9, "minExtent": 24, "maxExtent": 24, "titlePadding": 4, "titleFont": "Liberation Sans", "titleFontSize": 14}},
"y": {"field": "y", "type": "quantitative", "scale": {"domain": [1.8, 2.0], "nice": false, "zero": false},
"axis": {"title": "40 Hz Amplitude (a.u.)", "values": [1.8, 1.85, 1.9, 1.95, 2.0], "labelExpr": "datum.value>1.999?'2.0':format(datum.value,'.3~f')", "labelFont": "Liberation Sans", "labelFontSize": 12.5, "labelPadding": 12, "minExtent": 35, "maxExtent": 35, "titlePadding": 12, "titleFont": "Liberation Sans", "titleFontSize": 15.5}}
},
"layer": [
{"transform": [{"filter": "datum.s=='pi'"}], "mark": {"type": "line", "color": "#8a8a8a", "strokeWidth": 1}},
{"transform": [{"filter": "datum.s=='hi'||datum.s=='lo'"}], "mark": {"type": "line", "color": "#c4c4c4", "strokeWidth": 1}, "encoding": {"detail": {"field": "s"}}},
{"transform": [{"filter": "datum.s=='mean'"}], "mark": {"type": "line", "color": "#222222", "strokeWidth": 2}},
{"transform": [{"filter": "datum.s=='ref'"}], "mark": {"type": "line", "color": "#7e7e7e", "strokeWidth": 1.3, "interpolate": "monotone"}},
{"transform": [{"filter": "datum.s=='obs'"}], "mark": {"type": "line", "color": "#a32d35", "strokeWidth": 1.6}},
{"transform": [{"filter": "datum.s=='label'"}], "mark": {"type": "text", "font": "Liberation Sans", "fontWeight": "bold", "fontSize": 15, "align": "center", "baseline": "middle", "color": "#111111"}, "encoding": {"text": {"field": "label"}}}
]
},
{
"width": 218, "height": 181,
"view": {"stroke": "#8c8c8c", "strokeWidth": 1.5},
"data": {"name": "M2"},
"encoding": {
"x": {"field": "x", "type": "quantitative", "scale": {"domain": [0, 2], "nice": false, "zero": false},
"axis": {"title": "6 Hz Phase (radians)", "values": [0, 0.5, 1, 1.5, 2], "labelExpr": "datum.value==0?'0':datum.value==0.5?'π/2':datum.value==1?'π':datum.value==1.5?'3π/2':'2π'", "labelFlush": true, "labelFont": "Liberation Sans", "labelFontSize": 12.5, "labelPadding": 10, "minExtent": 24, "maxExtent": 24, "titlePadding": 10, "titleFont": "Liberation Sans", "titleFontSize": 14}},
"y": {"field": "y", "type": "quantitative", "scale": {"domain": [4.0, 4.5], "nice": false, "zero": false},
"axis": {"title": "40 Hz Amplitude (a.u.)", "values": [4.0, 4.1, 4.2, 4.3, 4.4, 4.5], "format": ".1f", "labelFont": "Liberation Sans", "labelFontSize": 12.5, "labelPadding": 10, "minExtent": 35, "maxExtent": 35, "titlePadding": 12, "titleFont": "Liberation Sans", "titleFontSize": 15.5}}
},
"layer": [
{"transform": [{"filter": "datum.s=='pi'"}], "mark": {"type": "line", "color": "#8a8a8a", "strokeWidth": 1}},
{"transform": [{"filter": "datum.s=='hi'||datum.s=='lo'"}], "mark": {"type": "line", "color": "#c4c4c4", "strokeWidth": 1}, "encoding": {"detail": {"field": "s"}}},
{"transform": [{"filter": "datum.s=='mean'"}], "mark": {"type": "line", "color": "#222222", "strokeWidth": 2}},
{"transform": [{"filter": "datum.s=='ref'"}], "mark": {"type": "line", "color": "#7e7e7e", "strokeWidth": 1.3, "interpolate": "monotone"}},
{"transform": [{"filter": "datum.s=='obs'"}], "mark": {"type": "line", "color": "#a32d35", "strokeWidth": 1.6}},
{"transform": [{"filter": "datum.s=='label'"}], "mark": {"type": "text", "font": "Liberation Sans", "fontWeight": "bold", "fontSize": 15, "align": "center", "baseline": "middle", "color": "#111111"}, "encoding": {"text": {"field": "label"}}}
]
},
{
"width": 218, "height": 181,
"view": {"stroke": "#8c8c8c", "strokeWidth": 1.5},
"data": {"name": "M3"},
"encoding": {
"x": {"field": "x", "type": "quantitative", "scale": {"domain": [0, 2], "nice": false, "zero": false},
"axis": {"title": "6 Hz Phase (radians)", "values": [0, 0.5, 1, 1.5, 2], "labelExpr": "datum.value==0?'0':datum.value==0.5?'π/2':datum.value==1?'π':datum.value==1.5?'3π/2':'2π'", "labelFlush": true, "labelFont": "Liberation Sans", "labelFontSize": 12.5, "labelPadding": 10, "minExtent": 24, "maxExtent": 24, "titlePadding": 10, "titleFont": "Liberation Sans", "titleFontSize": 14}},
"y": {"field": "y", "type": "quantitative", "scale": {"domain": [2.9, 3.15], "nice": false, "zero": false},
"axis": {"title": "40 Hz Amplitude (a.u.)", "values": [2.9, 2.95, 3.0, 3.05, 3.1, 3.15], "format": ".2f", "labelFont": "Liberation Sans", "labelFontSize": 12.5, "labelPadding": 11, "minExtent": 35, "maxExtent": 35, "titlePadding": 12, "titleFont": "Liberation Sans", "titleFontSize": 15.5}}
},
"layer": [
{"transform": [{"filter": "datum.s=='pi'"}], "mark": {"type": "line", "color": "#8a8a8a", "strokeWidth": 1}},
{"transform": [{"filter": "datum.s=='hi'||datum.s=='lo'"}], "mark": {"type": "line", "color": "#c4c4c4", "strokeWidth": 1}, "encoding": {"detail": {"field": "s"}}},
{"transform": [{"filter": "datum.s=='mean'"}], "mark": {"type": "line", "color": "#222222", "strokeWidth": 2}},
{"transform": [{"filter": "datum.s=='ref'"}], "mark": {"type": "line", "color": "#7e7e7e", "strokeWidth": 1.3, "interpolate": "monotone"}},
{"transform": [{"filter": "datum.s=='obs'"}], "mark": {"type": "line", "color": "#a32d35", "strokeWidth": 1.6}},
{"transform": [{"filter": "datum.s=='label'"}], "mark": {"type": "text", "font": "Liberation Sans", "fontWeight": "bold", "fontSize": 15, "align": "center", "baseline": "middle", "color": "#111111"}, "encoding": {"text": {"field": "label"}}}
]
}
],
"spacing": 64,
"bounds": "flush"
},
{
"vconcat": [
{
"width": 209, "height": 185,
"view": {"stroke": "#333333", "strokeWidth": 2},
"data": {"name": "R1"},
"encoding": {
"x": {"field": "x", "type": "quantitative", "scale": {"domain": [0, 2], "nice": false, "zero": false},
"axis": {"title": "R PreC 6 Hz Phase (radians)", "values": [0, 0.5, 1, 1.5, 2], "labelExpr": "datum.value==0?'0':datum.value==0.5?'π/2':datum.value==1?'π':datum.value==1.5?'3π/2':'2π'", "labelFlush": true, "labelFont": "Liberation Serif", "labelFontSize": 15, "labelPadding": 3, "minExtent": 19, "maxExtent": 19, "titlePadding": 0, "titleFont": "Liberation Sans", "titleFontSize": 14.5}},
"y": {"field": "y", "type": "quantitative", "scale": {"domain": [0.08, 0.14], "nice": false, "zero": false},
"axis": {"title": "R PreC - L SFG 40 Hz PLV", "values": [0.08, 0.09, 0.1, 0.11, 0.12, 0.13, 0.14], "labelExpr": "replace(format(datum.value,'.2f'),'0.','.')", "labelFont": "Liberation Sans", "labelFontSize": 12.5, "labelPadding": 8, "minExtent": 28, "maxExtent": 28, "titlePadding": 14, "titleFont": "Liberation Sans", "titleFontSize": 14.5}}
},
"layer": [
{"transform": [{"filter": "datum.s=='pi'"}], "mark": {"type": "line", "color": "#8a8a8a", "strokeWidth": 1}},
{"transform": [{"filter": "datum.s=='hi'||datum.s=='lo'"}], "mark": {"type": "line", "color": "#c4c4c4", "strokeWidth": 1}, "encoding": {"detail": {"field": "s"}}},
{"transform": [{"filter": "datum.s=='mean'"}], "mark": {"type": "line", "color": "#222222", "strokeWidth": 2}},
{"transform": [{"filter": "datum.s=='ref'"}], "mark": {"type": "line", "color": "#7e7e7e", "strokeWidth": 1.3, "interpolate": "monotone"}},
{"transform": [{"filter": "datum.s=='obs'"}], "mark": {"type": "line", "color": "#a32d35", "strokeWidth": 1.6}}
]
},
{
"width": 209, "height": 186,
"view": {"stroke": "#333333", "strokeWidth": 2},
"data": {"name": "R2"},
"encoding": {
"x": {"field": "x", "type": "quantitative", "scale": {"domain": [0, 2], "nice": false, "zero": false},
"axis": {"title": "R DLPFC 6 Hz Phase (radians)", "values": [0, 0.5, 1, 1.5, 2], "labelExpr": "datum.value==0?'0':datum.value==0.5?'π/2':datum.value==1?'π':datum.value==1.5?'3π/2':'2π'", "labelFlush": true, "labelFont": "Liberation Serif", "labelFontSize": 15, "labelPadding": 5.5, "minExtent": 20, "maxExtent": 20, "titlePadding": 13, "titleFont": "Liberation Sans", "titleFontSize": 14.5}},
"y": {"field": "y", "type": "quantitative", "scale": {"domain": [0.2, 0.26], "nice": false, "zero": false},
"axis": {"title": "R DLPFC - L SFG 40 Hz PLV", "values": [0.2, 0.21, 0.22, 0.23, 0.24, 0.25, 0.26], "labelExpr": "replace(format(datum.value,'.2f'),'0.','.')", "labelFont": "Liberation Sans", "labelFontSize": 12.5, "labelPadding": 8, "minExtent": 28, "maxExtent": 28, "titlePadding": 15, "titleFont": "Liberation Sans", "titleFontSize": 14.5}}
},
"layer": [
{"transform": [{"filter": "datum.s=='pi'"}], "mark": {"type": "line", "color": "#8a8a8a", "strokeWidth": 1}},
{"transform": [{"filter": "datum.s=='hi'||datum.s=='lo'"}], "mark": {"type": "line", "color": "#c4c4c4", "strokeWidth": 1}, "encoding": {"detail": {"field": "s"}}},
{"transform": [{"filter": "datum.s=='mean'"}], "mark": {"type": "line", "color": "#222222", "strokeWidth": 2}},
{"transform": [{"filter": "datum.s=='ref'"}], "mark": {"type": "line", "color": "#7e7e7e", "strokeWidth": 1.3, "interpolate": "monotone"}},
{"transform": [{"filter": "datum.s=='obs'"}], "mark": {"type": "line", "color": "#a32d35", "strokeWidth": 1.6}}
]
},
{
"width": 209, "height": 184,
"view": {"stroke": "#333333", "strokeWidth": 2},
"data": {"name": "R3"},
"encoding": {
"x": {"field": "x", "type": "quantitative", "scale": {"domain": [0, 2], "nice": false, "zero": false},
"axis": {"title": "R SFG 6 Hz Phase (radians)", "values": [0, 0.5, 1, 1.5, 2], "labelExpr": "datum.value==0?'0':datum.value==0.5?'π/2':datum.value==1?'π':datum.value==1.5?'3π/2':'2π'", "labelFlush": true, "labelFont": "Liberation Serif", "labelFontSize": 15, "labelPadding": 7.5, "minExtent": 22, "maxExtent": 22, "titlePadding": 7, "titleFont": "Liberation Sans", "titleFontSize": 14.5}},
"y": {"field": "y", "type": "quantitative", "scale": {"domain": [0.24, 0.32], "nice": false, "zero": false},
"axis": {"title": "R SFG - L DLPFC 40 Hz PLV", "values": [0.24, 0.26, 0.28, 0.3, 0.32], "labelExpr": "replace(format(datum.value,'.2f'),'0.','.')", "labelFont": "Liberation Sans", "labelFontSize": 12.5, "labelPadding": 9, "minExtent": 28, "maxExtent": 28, "titlePadding": 17, "titleFont": "Liberation Sans", "titleFontSize": 14.5}}
},
"layer": [
{"transform": [{"filter": "datum.s=='pi'"}], "mark": {"type": "line", "color": "#8a8a8a", "strokeWidth": 1}},
{"transform": [{"filter": "datum.s=='hi'||datum.s=='lo'"}], "mark": {"type": "line", "color": "#c4c4c4", "strokeWidth": 1}, "encoding": {"detail": {"field": "s"}}},
{"transform": [{"filter": "datum.s=='mean'"}], "mark": {"type": "line", "color": "#222222", "strokeWidth": 2}},
{"transform": [{"filter": "datum.s=='ref'"}], "mark": {"type": "line", "color": "#7e7e7e", "strokeWidth": 1.3, "interpolate": "monotone"}},
{"transform": [{"filter": "datum.s=='obs'"}], "mark": {"type": "line", "color": "#a32d35", "strokeWidth": 1.6}}
]
}
],
"spacing": 61,
"bounds": "flush"
}
],
"spacing": 10
}
],
"config": {
"view": {"stroke": "#3a3a3a", "strokeWidth": 1.5},
"axis": {"grid": false, "ticks": false, "domain": false, "labelColor": "#111111", "titleColor": "#111111", "labelFontWeight": "bold", "titleFontWeight": "bold"}
}
}
